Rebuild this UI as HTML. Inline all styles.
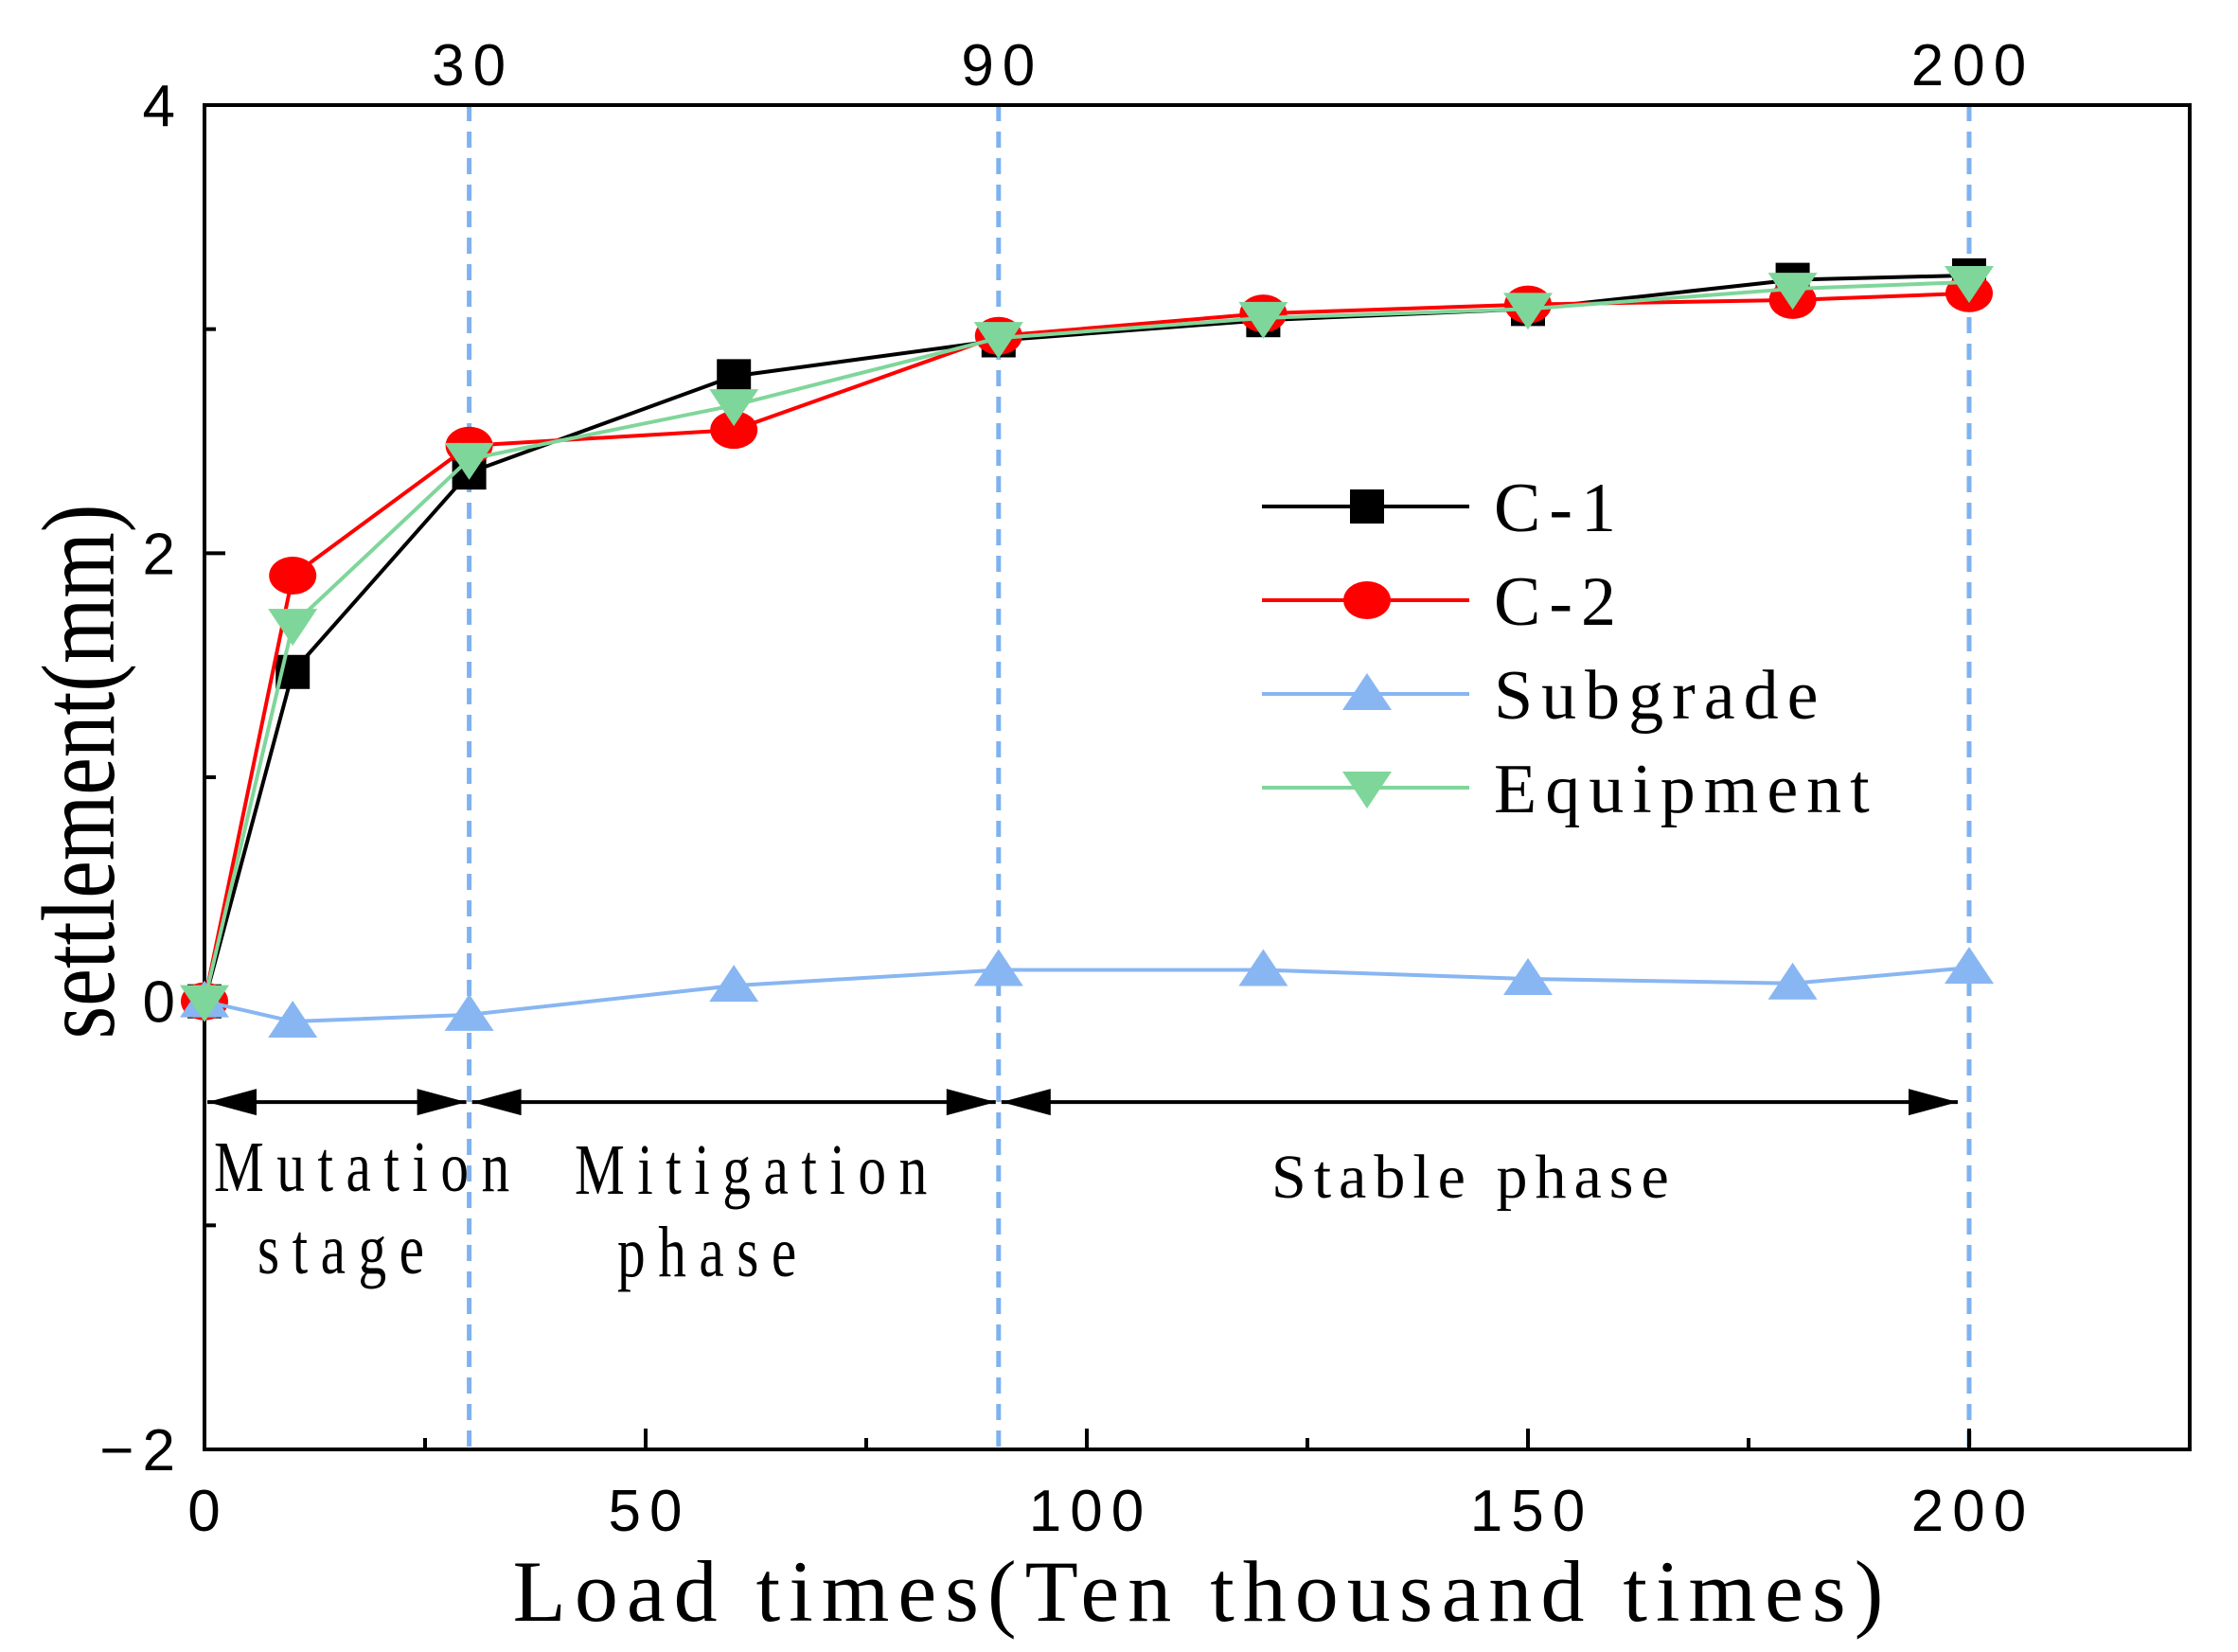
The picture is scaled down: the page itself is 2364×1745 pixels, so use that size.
<!DOCTYPE html>
<html><head><meta charset="utf-8"><style>
html,body{margin:0;padding:0;background:#fff;}
svg{display:block;}
.tk{font-family:"Liberation Sans",sans-serif;font-size:62px;letter-spacing:9px;fill:#000;}
.sr{font-family:"Liberation Serif",serif;fill:#000;}
</style></head><body>
<svg id="chart" width="2364" height="1745" viewBox="0 0 2364 1745" xmlns="http://www.w3.org/2000/svg">
<g id="plot"></g>
</svg>
<script>
const xs = [0,10,30,60,90,120,150,180,200];
const c1 = [0,1.47,2.36,2.79,2.95,3.04,3.09,3.22,3.24];
const c2 = [0,1.90,2.48,2.55,2.97,3.07,3.11,3.13,3.16];
const sub = [0,-0.09,-0.06,0.07,0.14,0.14,0.10,0.08,0.15];
const equip = [0,1.68,2.42,2.66,2.96,3.05,3.09,3.18,3.21];
const xTicks = [0,50,100,150,200];
const yTicks = [-2,0,2,4];
const phaseLines = [30,90,200];
const L=216,R=2313,T=111,B=1531;
const X=v=>L+(v)*(R-L)/225;
const Y=v=>T+(4-v)*(B-T)/6;
const NS='http://www.w3.org/2000/svg';
const g=document.getElementById('plot');
function mk(tag,attrs,parent){const e=document.createElementNS(NS,tag);for(const k in attrs)e.setAttribute(k,attrs[k]);(parent||g).appendChild(e);return e;}
phaseLines.forEach(p=>{
 const l=mk('line',{x1:X(p),x2:X(p),y1:T,y2:B,stroke:'#7fb2f0','stroke-width':5,'stroke-dasharray':'17,11'});
 
 
 const t=mk('text',{x:X(p)+4,y:90,'text-anchor':'middle',class:'tk'});t.textContent=p;
 
 
});
const fr=mk('rect',{x:L,y:T,width:R-L,height:B-T,fill:'none',stroke:'#000','stroke-width':4});


xTicks.forEach(v=>{
 mk('line',{x1:X(v),x2:X(v),y1:B,y2:B-22,stroke:'#000','stroke-width':4});
 const t=mk('text',{x:X(v)+4,y:B+86,'text-anchor':'middle',class:'tk'});t.textContent=v;
 
 
});
for(let v=25;v<225;v+=50){mk('line',{x1:X(v),x2:X(v),y1:B,y2:B-12,stroke:'#000','stroke-width':4});}
yTicks.forEach(v=>{
 mk('line',{x1:L,x2:L+22,y1:Y(v),y2:Y(v),stroke:'#000','stroke-width':4});
 const t=mk('text',{x:L-22,y:Y(v)+22,'text-anchor':'end',class:'tk'});t.textContent=(v<0?'\u2212'+(-v):v);
 
 
});
for(let v=-1;v<4;v+=2){mk('line',{x1:L,x2:L+12,y1:Y(v),y2:Y(v),stroke:'#000','stroke-width':4});}
const ay=Y(-0.45);
function head(x,y,dir){return mk('polygon',{points:`${x},${y} ${x-dir*52},${y-14} ${x-dir*52},${y+14}`,fill:'#000'});}
[[0,30],[30,90],[90,200]].forEach((p,i)=>{
 const x1=X(p[0])+3,x2=X(p[1])-(i==2?12:3);
 const a=mk('line',{x1:x1,x2:x2,y1:ay,y2:ay,stroke:'#000','stroke-width':4});
 
 
 head(x1,ay,-1);head(x2,ay,1);
});
function marker(type,x,y,color){
 if(type==='sq')return mk('rect',{x:x-18,y:y-18,width:36,height:36,fill:color});
 if(type==='ci')return mk('ellipse',{cx:x,cy:y,rx:25,ry:20,fill:color});
 if(type==='up')return mk('polygon',{points:`${x},${y-22} ${x+26},${y+17} ${x-26},${y+17}`,fill:color});
 return mk('polygon',{points:`${x},${y+22} ${x+26},${y-17} ${x-26},${y-17}`,fill:color});
}
const series=[['C-1',c1,'#000','sq'],['C-2',c2,'#ff0000','ci'],['Subgrade',sub,'#88b6f2','up'],['Equipment',equip,'#7fd69a','dn']];
series.forEach(s=>{
 const pts=xs.map((x,i)=>X(x)+','+Y(s[1][i])).join(' ');
 const pl=mk('polyline',{points:pts,fill:'none',stroke:s[2],'stroke-width':4});
 
 
 xs.forEach((x,i)=>{
  const m=marker(s[3],X(x),Y(s[1][i]),s[2]);
  
  
 });
});
const legY=[535,634,733,832];
series.forEach((s,i)=>{
 const lg=mk('g',{});
 
 
 mk('line',{x1:1333,x2:1552,y1:legY[i],y2:legY[i],stroke:s[2],'stroke-width':4},lg);
 lg.appendChild(marker(s[3],1444,legY[i],s[2]));
 const t=mk('text',{x:1578,y:legY[i]+26,class:'sr','font-size':74,'letter-spacing':'9'},lg);t.textContent=s[0];
});
</script>
<svg style="position:absolute;left:0;top:0" width="2364" height="1745" viewBox="0 0 2364 1745" xmlns="http://www.w3.org/2000/svg">
<g transform="translate(226,1258) scale(0.9,1.15)"><text class="sr" x="0" y="0" font-size="66" letter-spacing="15">Mutation</text></g>
<g transform="translate(272,1345) scale(0.9,1.15)"><text class="sr" x="0" y="0" font-size="66" letter-spacing="15">stage</text></g>
<g transform="translate(607,1261) scale(0.9,1.15)"><text class="sr" x="0" y="0" font-size="66" letter-spacing="15">Mitigation</text></g>
<g transform="translate(652,1348) scale(0.9,1.15)"><text class="sr" x="0" y="0" font-size="66" letter-spacing="15">phase</text></g>
<text class="sr" x="1343" y="1265" font-size="66" letter-spacing="8">Stable phase</text>
<text class="sr" x="1270" y="1712" font-size="92" letter-spacing="9" text-anchor="middle">Load times(Ten thousand times)</text>
<text class="sr" font-size="92" transform="translate(120,815) rotate(-90) scale(0.97,1.2)" text-anchor="middle" x="0" y="0">settlement(mm)</text>
</svg>
</body></html>
